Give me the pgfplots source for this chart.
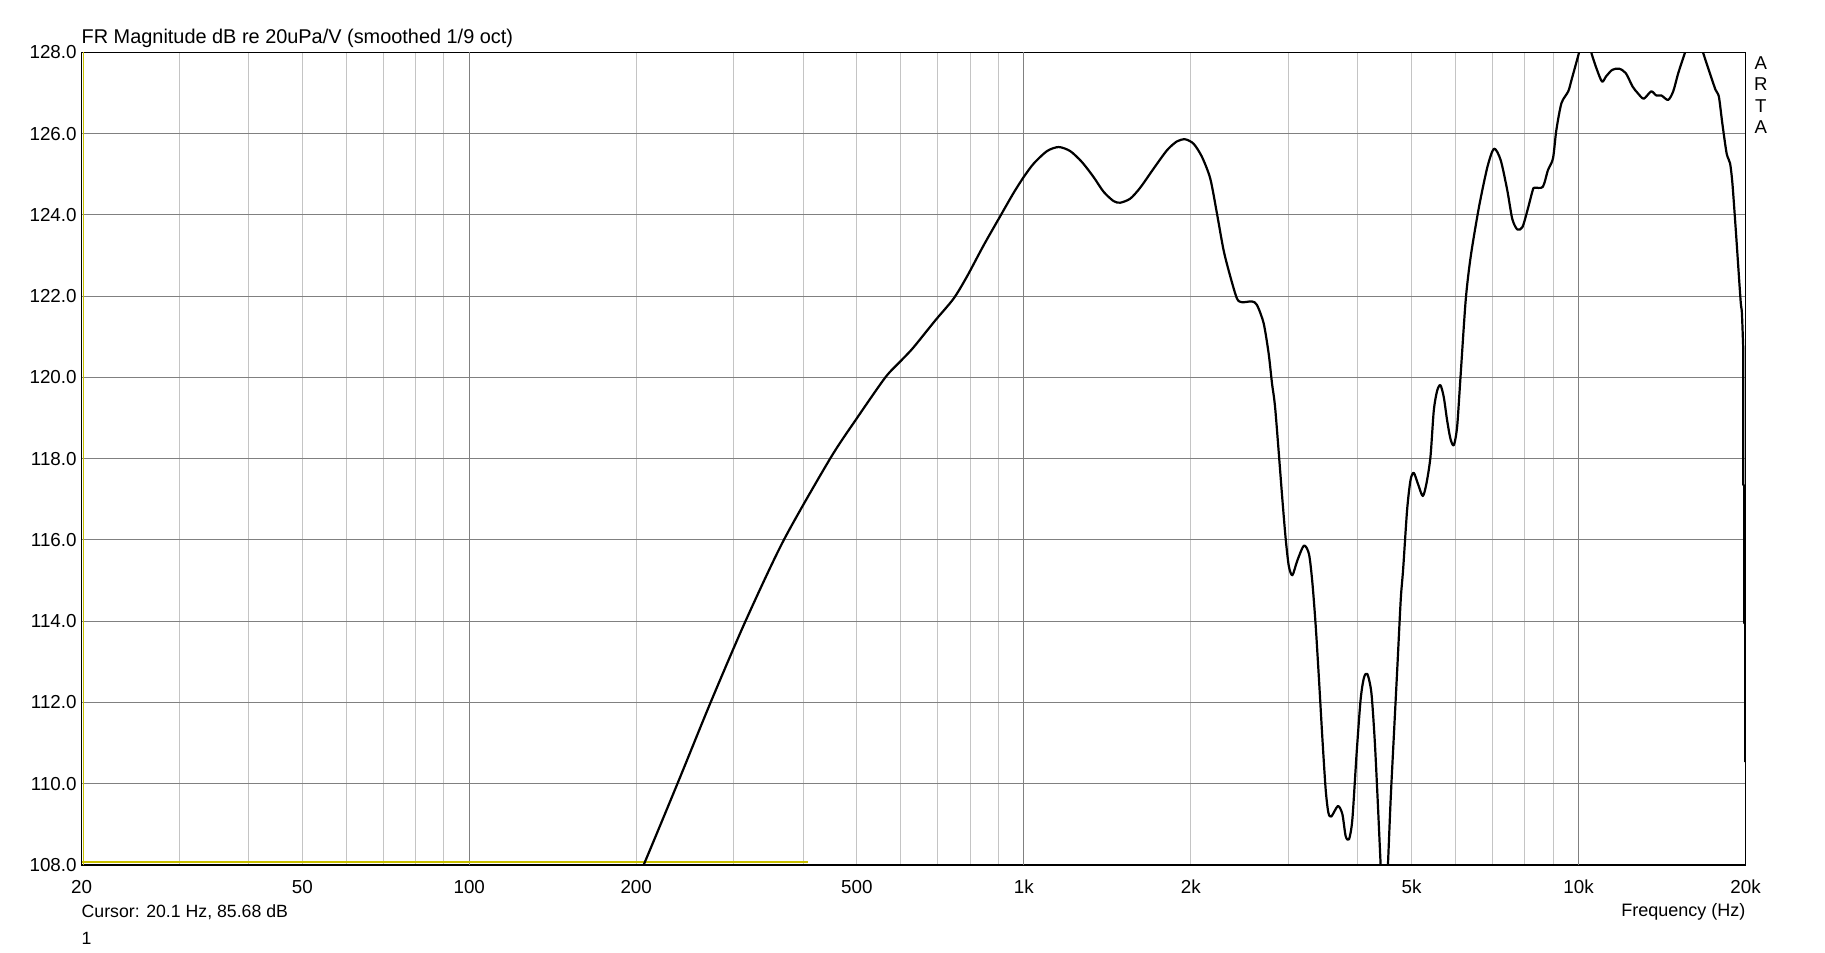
\documentclass[border=0pt]{standalone}
\usepackage{pgfplots}
\pgfplotsset{compat=1.18}
\usepackage{fontspec}
\setmainfont{Liberation Sans}
\definecolor{majgrid}{RGB}{128,128,128}
\definecolor{mingrid}{RGB}{196,196,196}
\definecolor{cursoryel}{RGB}{200,192,0}
\begin{document}
\begin{tikzpicture}
\path[use as bounding box] (-81.5pt,-88pt) rectangle (1743.5pt,864.9pt);
\begin{axis}[
  at={(0pt,0pt)}, anchor=south west,
  scale only axis, width=1664pt, height=812.5pt,
  xmode=log, xmin=20, xmax=20000, ymin=108, ymax=128,
  xtick={20,50,100,200,500,1000,2000,5000,10000,20000},
  xticklabels={20,50,100,200,500,1k,2k,5k,10k,20k},
  minor xtick={30,40,50,60,70,80,90,200,300,400,500,600,700,800,900,2000,3000,4000,5000,6000,7000,8000,9000},
  extra x ticks={100,1000,10000}, extra x tick labels={},
  extra x tick style={grid=major},
  xmajorgrids=false, xminorgrids=true, ymajorgrids=true,
  major grid style={majgrid, line width=1pt},
  minor grid style={mingrid, line width=1pt},
  ytick={108,110,112,114,116,118,120,122,124,126,128},
  yticklabels={108.0,110.0,112.0,114.0,116.0,118.0,120.0,122.0,124.0,126.0,128.0},
  major tick length=0pt, minor tick length=0pt,
  axis line style={black, line width=1.2pt},
  tick label style={font=\fontsize{18.8}{20}\selectfont, black},
  yticklabel style={anchor=east, inner sep=0pt, xshift=-4.7pt},
  xticklabel style={anchor=north, inner sep=0pt, yshift=-15pt},
]
\addplot[cursoryel, line width=2.5pt, forget plot] coordinates {(20,108.07) (408,108.07)};
\addplot[cursoryel, line width=1.5pt, forget plot] coordinates {(20.15,108) (20.15,128)};
\addplot[black, line width=2.2pt, line join=round, smooth, tension=0.45] table {
f db
190 106.9
206.3 108.0
238.5 110.07
272 111.98
314.6 113.99
368.9 115.99
447.8 118.01
500.2 119.0
562.6 120.0
598.5 120.39
624.2 120.65
641.4 120.84
692 121.4
747 121.94
789.5 122.48
846 123.25
906.6 123.97
958 124.54
999 124.93
1041 125.26
1100.6 125.57
1155 125.67
1212 125.57
1272.6 125.3
1335.7 124.93
1392 124.57
1451 124.34
1492 124.30
1555 124.40
1621 124.67
1713.6 125.14
1811 125.59
1888 125.81
1954 125.86
2023 125.75
2094 125.43
2168 124.89
2229 124.03
2291 123.13
2356 122.48
2422 121.94
2473 121.85
2578 121.87
2632 121.78
2705.5 121.33
2762 120.59
2801 119.85
2840 119.2
2924 117.0
2965 116.02
3003 115.36
3048 115.13
3111 115.49
3198 115.86
3266 115.65
3312 114.95
3358 113.89
3404 112.57
3453 111.1
3500 109.86
3539 109.29
3583 109.19
3683 109.45
3751 109.25
3803 108.71
3856 108.63
3910 109.12
3981 110.77
4047 112.08
4103 112.61
4161 112.7
4231 112.24
4289 111.1
4337 109.78
4397 108.0
4420 107.3
4460 107.0
4500 107.3
4532 108.0
4584 109.62
4648 111.26
4714 112.9
4780 114.54
4827 115.27
4907 116.73
4977 117.47
5045 117.65
5130 117.39
5237 117.08
5318 117.39
5407 118.04
5482 119.18
5559 119.67
5636 119.81
5715 119.51
5795 118.94
5875 118.49
5957 118.33
6040 118.78
6125 120.0
6259 121.9
6390 122.97
6615 124.2
6850 125.18
7040 125.63
7237 125.35
7440 124.6
7595 123.9
7757 123.64
7923 123.7
8090 124.12
8264 124.6
8323 124.67
8620 124.69
8805 125.1
8992 125.39
9119 126.09
9314 126.75
9580 127.04
9715 127.33
10021 128.0
10277 128.6
10540 128.0
10795 127.57
11025 127.28
11212 127.41
11500 127.57
11828 127.6
12165 127.49
12512 127.16
12779 127.0
13106 126.86
13518 127.04
13806 126.94
14100 126.94
14503 126.83
14812 127.04
15127 127.49
15558 128.0
16138 128.7
16762 128.0
17167 127.57
17657 127.08
17906 126.91
18159 126.26
18494 125.51
18756 125.27
18941 124.77
19209 123.62
19593 121.9
19700 121.6
19810 120.72
};
\addplot[black, line width=2.2pt, line join=round] table {
f db
19810 120.72
19812 117.35
19890 117.35
19892 113.95
19973 113.95
19975 110.53
};
\end{axis}
\node[anchor=base west, inner sep=0pt, font=\fontsize{19.9}{22}\selectfont] at (0pt,821.7pt) {FR Magnitude dB re 20uPa/V (smoothed 1/9 oct)};
\node[anchor=base west, inner sep=0pt, font=\fontsize{17.7}{20}\selectfont] at (0pt,-53pt) {Cursor: 20.1 Hz, 85.68 dB};
\node[anchor=base west, inner sep=0pt, font=\fontsize{17.7}{20}\selectfont] at (0pt,-80pt) {1};
\node[anchor=base east, inner sep=0pt, font=\fontsize{18}{20}\selectfont] at (1664pt,-52pt) {Frequency (Hz)};
\node[anchor=base, inner sep=0pt, font=\fontsize{18.6}{20}\selectfont] at (1679.2pt,795pt) {A};
\node[anchor=base, inner sep=0pt, font=\fontsize{18.6}{20}\selectfont] at (1679.2pt,773.9pt) {R};
\node[anchor=base, inner sep=0pt, font=\fontsize{18.6}{20}\selectfont] at (1679.2pt,752.8pt) {T};
\node[anchor=base, inner sep=0pt, font=\fontsize{18.6}{20}\selectfont] at (1679.2pt,731.7pt) {A};
\end{tikzpicture}
\end{document}
